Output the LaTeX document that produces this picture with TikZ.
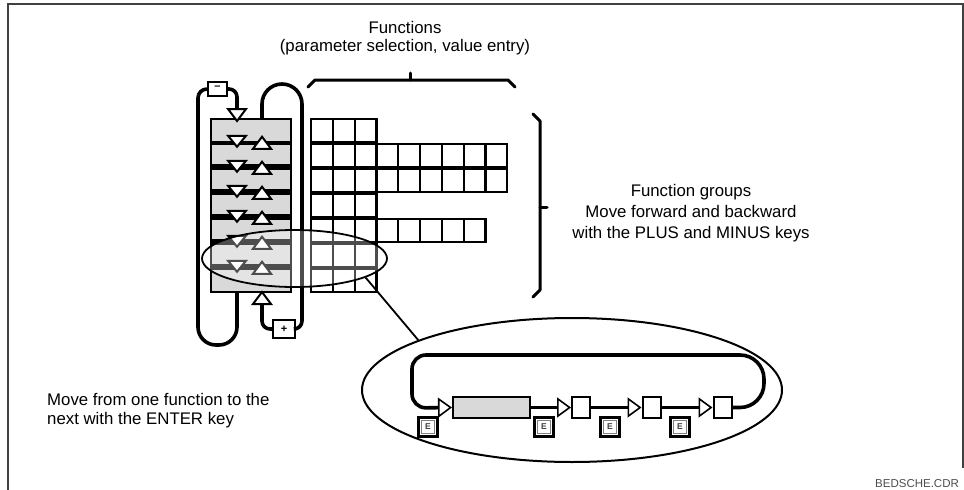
\documentclass[tikz,border=0pt]{standalone}
\usepackage{fontspec}
\setmainfont{Liberation Sans}
\usetikzlibrary{shapes.geometric,arrows.meta,calc}
\begin{document}
\begin{tikzpicture}[x=1pt,y=-1pt,
  txt/.style={font=\fontsize{16.8}{19}\selectfont, inner sep=0pt},
  grp/.style={draw, line width=2pt, fill=black!15, minimum width=80pt, minimum height=22.5pt, inner sep=0pt, anchor=north west},
  cell/.style={draw, line width=2.2pt, fill=white, minimum width=21.8pt, minimum height=22.5pt, inner sep=0pt, anchor=north west},
  tri/.style={draw, fill=white, line width=2pt, line join=miter},
  loopline/.style={line width=3.6pt},
  keybox/.style={draw, line width=2pt, fill=white, inner sep=0pt, font=\fontsize{11}{11}\selectfont\bfseries},
  ekey/.style={draw, line width=2.4pt, fill=white, minimum size=19pt, inner sep=0pt,
    font=\fontsize{8.5}{8.5}\selectfont\bfseries, text=black!75,
    path picture={\draw[black!50, line width=0.9pt] ([shift={(3pt,3pt)}]path picture bounding box.south west) rectangle ([shift={(-3pt,-3pt)}]path picture bounding box.north east);}},
  chainbox/.style={draw, line width=2pt, fill=white, minimum width=18pt, minimum height=21pt, inner sep=0pt},
  chainline/.style={line width=2.6pt, -{Triangle[length=14pt,width=20pt,fill=white,line width=1.6pt]}},
  brace/.style={line width=3pt, line cap=round, line join=round},
  frame/.style={line width=2pt, draw=black!75}
]
\useasboundingbox (0,0) rectangle (964,490);

% frame
\draw[frame] (8,490) -- (8,3.5) -- (962.5,3.5) -- (962.5,468);

% texts
\node[txt, anchor=base] (t1) at (405,33) {Functions};
\node[txt, anchor=base] (t2) at (405,51) {(parameter selection, value entry)};
\node[txt, anchor=base] (t3) at (691,196) {Function groups};
\node[txt, anchor=base] (t4) at (691,217) {Move forward and backward};
\node[txt, anchor=base] (t5) at (691,238) {with the PLUS and MINUS keys};
\node[txt, anchor=base west] (t6) at (47,405) {Move from one function to the};
\node[txt, anchor=base west] (t7) at (47,424) {next with the ENTER key};
\node[anchor=base west, inner sep=0pt, font=\fontsize{11.5}{12}\selectfont, text=black!70] (t8) at (875,487) {BEDSCHE.CDR};

% brackets
\draw[brace] (308,87) -- (315,80) -- (508,80) -- (515,87);
\draw[brace] (410,80) -- (410,73);
\draw[brace] (533,114) -- (540,121) -- (540,290) -- (533,297);
\draw[brace] (540,207) -- (547,207);

% keys
\node[keybox, minimum width=19pt, minimum height=14pt] (minus) at (217.5,89) {\raisebox{0.3ex}{--}};
\node[keybox, minimum width=22pt, minimum height=18pt] (plus) at (284,329) {+};

% loops around the group stack
\draw[loopline] (minus.west) [rounded corners=9pt] -| (198,200) [rounded corners=18pt] |- (237,345) -- (237,291);
\draw[loopline, rounded corners=8pt] (minus.east) -| (237,109);
\draw[loopline] (262,118) -- (262,104) arc[start angle=180, end angle=360, radius=20] [rounded corners=8pt] |- (plus.east);
\draw[loopline, rounded corners=8pt] (262,304) |- (plus.west);

% group stack and function cells
\foreach \i/\n in {0/3,1/9,2/9,3/3,4/8,5/3,6/3}{
  \node[grp] (g\i) at (210,{118+25*\i}) {};
  \foreach \k in {1,...,\n}
    \node[cell] (c\i-\k) at ({310+21.8*(\k-1)},{118+25*\i}) {};
}
\foreach \i in {2,...,6}
  \draw[line width=5pt] (210,{118+25*\i-1.25}) -- (290,{118+25*\i-1.25});

% triangles in the stack
\foreach \i in {1,...,6}{
  \pgfmathsetmacro\yb{118+25*\i-1.25}
  \draw[tri] (228,{\yb-6}) -- (246,{\yb-6}) -- (237,{\yb+5}) -- cycle;
  \draw[tri] (253,{\yb+7}) -- (271,{\yb+7}) -- (262,{\yb-5}) -- cycle;
}
\draw[tri] (228,109) -- (246,109) -- (237,121) -- cycle;
\draw[tri] (253,304) -- (271,304) -- (262,292) -- cycle;

% zoom ellipses
\node[ellipse, draw, line width=1.8pt, fill=white, fill opacity=0.3, minimum width=185pt, minimum height=57pt, inner sep=0pt] (zsrc) at (294.5,258.5) {};
\node[ellipse, draw, line width=2pt, minimum width=420pt, minimum height=144pt, inner sep=0pt] (zdst) at (572,390) {};
\draw[line width=1.8pt] (zsrc.-15) -- (zdst.162);

% function chain
\node[draw, line width=2pt, fill=black!15, minimum width=77pt, minimum height=21pt, inner sep=0pt] (f1) at (491.5,407.5) {};
\node[chainbox] (f2) at (581,407.5) {};
\node[chainbox] (f3) at (651.5,407.5) {};
\node[chainbox] (f4) at (722.5,407.5) {};
\node[ekey] (e1) at (428,427) {E};
\node[ekey] (e2) at (544,427) {E};
\node[ekey] (e3) at (610,427) {E};
\node[ekey] (e4) at (680,427) {E};
\draw[chainline] (f1.east) -- (f2.west);
\draw[chainline] (f2.east) -- (f3.west);
\draw[chainline] (f3.east) -- (f4.west);
\draw[line width=3.6pt, rounded corners=24pt] (f4.east) -| (764,355) -- (440,355);
\draw[line width=3.6pt, rounded corners=14pt, -{Triangle[length=14pt,width=20pt,fill=white,line width=1.6pt]}] (440,355) -| (412,408) -- (f1.west);
\end{tikzpicture}
\end{document}
